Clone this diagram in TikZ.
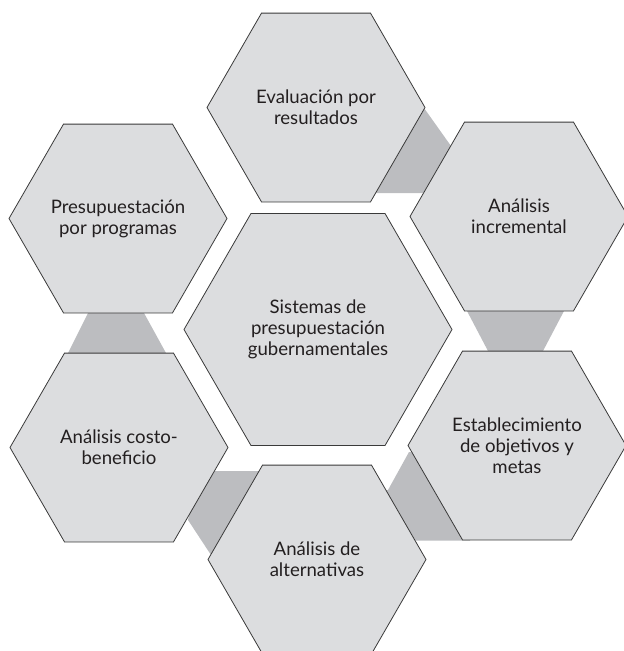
\documentclass[tikz,border=0pt]{standalone}
\usepackage{fontspec}
\setmainfont{Lato}
\definecolor{hexfill}{HTML}{DCDDDF}
\definecolor{linkfill}{HTML}{BCBDC0}
\definecolor{edgecol}{HTML}{3A3A3A}
\definecolor{txtcol}{HTML}{231F20}
\newcommand{\hexat}[2]{\draw[hexagonstyle] (#1) +(0:#2) -- +(60:#2) -- +(120:#2) -- +(180:#2) -- +(240:#2) -- +(300:#2) -- cycle;}
\begin{document}
\begin{tikzpicture}[x=1pt,y=-1pt,
  hexagonstyle/.style={fill=hexfill,draw=edgecol,line width=0.8pt,line join=miter},
  linkstyle/.style={fill=linkfill,draw=none},
  hexlabel/.style={align=center,text=txtcol,font=\fontsize{18.6}{21}\selectfont,inner sep=0pt}]
\useasboundingbox (0,0) rectangle (624,651);
\clip (0,0) rectangle (624,651);
% centres
\coordinate (ctop) at (316,107.5);
\coordinate (cur) at (519,216.5);
\coordinate (cul) at (118,218.5);
\coordinate (cmid) at (318,329.5);
\coordinate (clr) at (517,445.5);
\coordinate (cll) at (119,447.5);
\coordinate (cbot) at (317,559.5);
% dark links
\fill[linkstyle] (424,108) -- (451,146) -- (470,193) -- (360,193) -- (360,108) -- cycle;
\fill[linkstyle] (467,311) -- (564,311) -- (543,351) -- (488,351) -- cycle;
\fill[linkstyle] (88,313) -- (144,313) -- (166,353) -- (68,353) -- cycle;
\fill[linkstyle] (200,471) -- (270,471) -- (270,555) -- (211,555) -- (188,520) -- cycle;
\fill[linkstyle] (409,452) -- (388,490) -- (370,490) -- (370,540.5) -- (470,540.5) -- (470,460) -- cycle;
% hexagons
\hexat{ctop}{109}
\hexat{cur}{109}
\hexat{cul}{109}
\hexat{cmid}{134}
\hexat{clr}{109}
\hexat{cll}{109}
\hexat{cbot}{109}
% labels
\node[hexlabel] (ntop) at (ctop) {Evaluación por\\resultados};
\node[hexlabel] (nur) at (cur) {Análisis\\incremental};
\node[hexlabel] (nul) at (cul) {Presupuestación\\por programas};
\node[hexlabel] (nmid) at (cmid) {Sistemas de\\presupuestación\\gubernamentales};
\node[hexlabel] (nlr) at (clr) {Establecimiento\\de objetivos y\\metas};
\node[hexlabel] (nll) at (cll) {Análisis costo-\\beneficio};
\node[hexlabel] (nbot) at (cbot) {Análisis de\\alternativas};
\end{tikzpicture}
\end{document}
